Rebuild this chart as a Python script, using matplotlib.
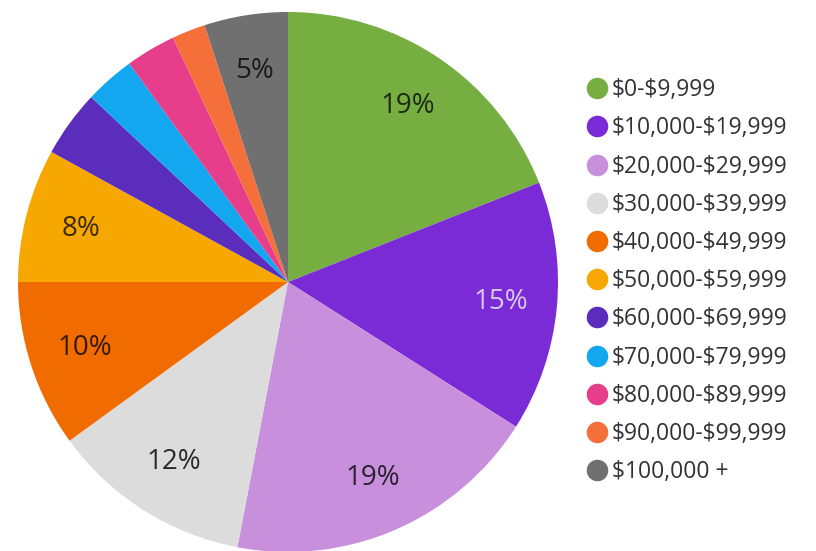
import matplotlib
matplotlib.use("Agg")
import matplotlib.pyplot as plt
from matplotlib.lines import Line2D

categories = ["$0-$9,999", "$10,000-$19,999", "$20,000-$29,999", "$30,000-$39,999",
              "$40,000-$49,999", "$50,000-$59,999", "$60,000-$69,999", "$70,000-$79,999",
              "$80,000-$89,999", "$90,000-$99,999", "$100,000 +"]
values = [19, 15, 19, 12, 10, 8, 4, 3, 3, 2, 5]
colors = ["#76ae41", "#7b2bd6", "#c88fdd", "#dcdcdc", "#f06b00", "#f6a800",
          "#5a2dbd", "#12a7ef", "#e63e8b", "#f56f3a", "#707070"]
label_colors = ["#1e2a14", "#d9c9f2", "#2a2230", "#2a2a2a", "#3a1a05", "#3a2a05",
                "#222222", "#222222", "#222222", "#222222", "#1a1a1a"]

plt.rcParams['font.family'] = ['Open Sans', 'DejaVu Sans']
plt.rcParams['text.parse_math'] = False

W, H = 816, 551
fig = plt.figure(figsize=(W / 100, H / 100), dpi=100)
cx, cy, R = 288, 282, 270
ax = fig.add_axes([(cx - R) / W, (H - cy - R) / H, 2 * R / W, 2 * R / H])

def fmt(p):
    return f"{p:.0f}%" if p >= 4.5 else ""

wedges, texts, autotexts = ax.pie(values, colors=colors, startangle=90, counterclock=False,
                                  radius=1, autopct=fmt, pctdistance=0.79,
                                  wedgeprops=dict(linewidth=0),
                                  textprops=dict(fontsize=20))
for t, c in zip(autotexts, label_colors):
    t.set_color(c)
ax.set_xlim(-1, 1)
ax.set_ylim(-1, 1)
ax.set_aspect('equal')
ax.axis('off')

handles = [Line2D([], [], marker='o', linestyle='none', markersize=14.5,
                  markerfacecolor=c, markeredgecolor=c) for c in colors]
leg = fig.legend(handles, categories, loc='upper left',
                 bbox_to_anchor=(574 / W, 1 - 69 / H), frameon=False,
                 fontsize=16.5, labelspacing=0.62, handletextpad=0.05,
                 handlelength=1.2, borderaxespad=0)
for t in leg.get_texts():
    t.set_color("#333333")

fig.savefig("out.png", dpi=100)
